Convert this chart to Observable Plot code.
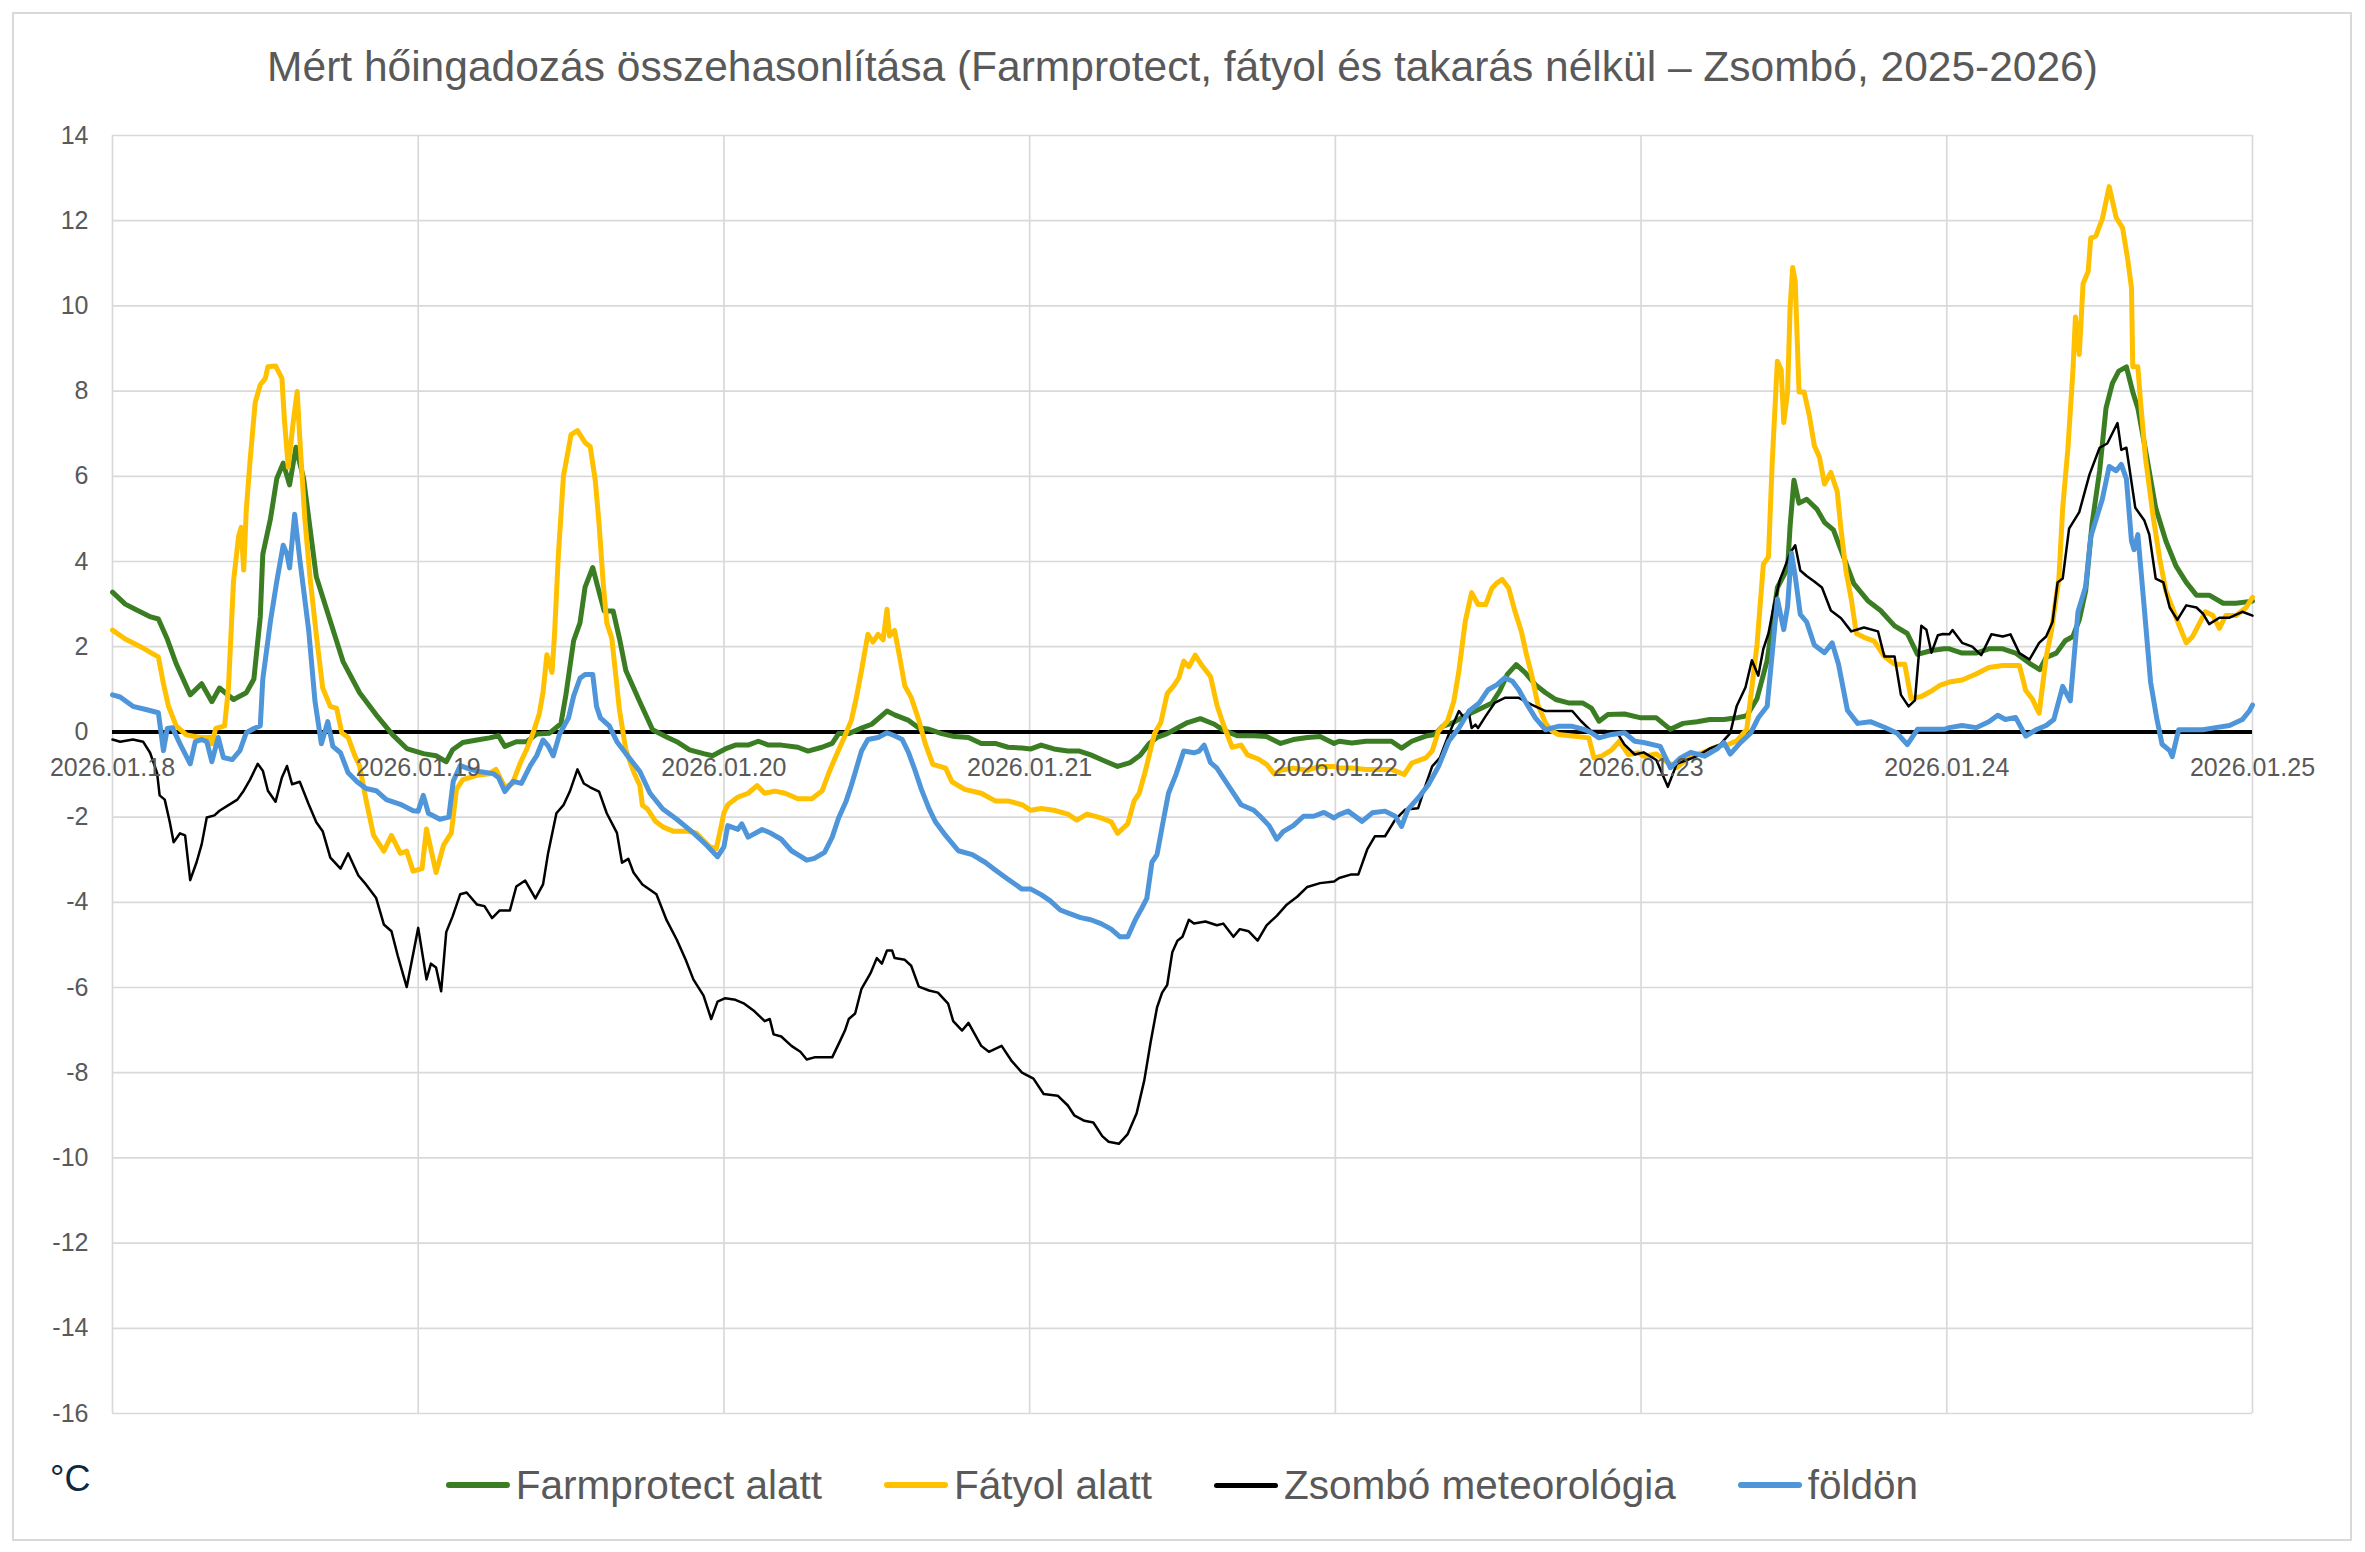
<!DOCTYPE html>
<html>
<head>
<meta charset="utf-8">
<script src="https://cdn.jsdelivr.net/npm/d3@7"></script>
<script src="https://cdn.jsdelivr.net/npm/@observablehq/plot@0.6"></script>
<style>
  html, body { margin: 0; padding: 0; background: #ffffff; }
  #wrap { position: relative; width: 2365px; height: 1552px; overflow: hidden;
          font-family: "Liberation Sans", Arial, sans-serif; background: #fff; }
  #chart { position: absolute; left: 0; top: 0; }
  #frame { position: absolute; left: 12px; top: 12px; width: 2340px; height: 1529px;
           border: 2px solid #d9d9d9; box-sizing: border-box; pointer-events: none; }
  #title { position: absolute; left: 0; top: 46px; width: 2365px; text-align: center;
           font-size: 42.5px; line-height: 1; color: #595959; white-space: nowrap; }
  #unit { position: absolute; left: 50px; top: 1461px; font-size: 36px; line-height: 1; color: #0e2841; }
  #legend { position: absolute; left: 112px; width: 2140px; top: 1465px; display: flex;
            justify-content: center; gap: 62px; font-size: 40.5px; line-height: 1; color: #595959; }
  .item { display: flex; align-items: center; white-space: nowrap; }
  .sw { width: 64px; height: 6px; border-radius: 3px; margin-right: 6px; }
</style>
</head>
<body>
<div id="wrap">
  <div id="chart"></div>
  <div id="frame"></div>
  <div id="title"></div>
  <div id="unit">°C</div>
  <div id="legend"></div>
</div>
<script>
// ---- data: [hours since 2026-01-18 00:00, °C] ----
const titleText = "Mért hőingadozás összehasonlítása (Farmprotect, fátyol és takarás nélkül – Zsombó, 2025-2026)";
const dayLabels = ["2026.01.18","2026.01.19","2026.01.20","2026.01.21","2026.01.22","2026.01.23","2026.01.24","2026.01.25"];
const yTicks = [-16,-14,-12,-10,-8,-6,-4,-2,0,2,4,6,8,10,12,14];
const seriesNames = ["Farmprotect alatt","Fátyol alatt","Zsombó meteorológia","földön"];
const seriesColors = ["#3B7D23","#FFC000","#000000","#4E95D9"];

const farmprotect = [
[0,3.28],[1,3.0],[1.9,2.86],[3,2.7],[3.6,2.65],[4.3,2.18],[5,1.6],[6.1,0.87],[7,1.13],[7.8,0.71],[8.4,1.03],[9.5,0.76],[10.5,0.92],[11.1,1.24],[11.6,2.7],[11.8,4.17],[12.4,5.0],[12.9,5.95],[13.4,6.31],[13.9,5.8],[14.4,6.68],[15,5.95],[16,3.64],[17.1,2.6],[18.1,1.65],[19.4,0.92],[20.7,0.4],[22,-0.07],[23.1,-0.39],
[24.4,-0.51],[25.4,-0.56],[26.2,-0.7],[26.7,-0.42],[27.5,-0.25],[28.6,-0.19],[29.6,-0.14],[30.3,-0.09],[30.8,-0.34],[31.7,-0.23],[32.5,-0.23],[33.3,-0.05],[34.3,-0.03],[35.2,0.19],[35.6,0.88],[36.2,2.14],[36.7,2.56],[37.1,3.4],[37.7,3.86],[38.1,3.4],[38.6,2.84],[39.3,2.84],[39.8,2.19],[40.3,1.44],[41.4,0.7],[42.4,0.05],[43.5,-0.12],[44.3,-0.23],[45.3,-0.42],[46.4,-0.51],[47.1,-0.56],
[48.1,-0.4],[48.9,-0.31],[49.9,-0.31],[50.7,-0.22],[51.5,-0.31],[52.5,-0.31],[53.8,-0.36],[54.6,-0.45],[55.7,-0.36],[56.5,-0.27],[57,-0.04],[57.8,-0.04],[58.8,0.09],[59.6,0.18],[60.3,0.36],[60.8,0.49],[61.4,0.4],[62.5,0.27],[63.3,0.09],[64,0.07],[65.1,-0.04],[66.1,-0.11],[67.2,-0.13],[68.2,-0.27],[69.3,-0.27],[70.3,-0.36],[71.4,-0.38],
[72.1,-0.4],[72.9,-0.31],[73.9,-0.4],[75,-0.45],[75.9,-0.45],[76.8,-0.54],[77.8,-0.67],[78.9,-0.81],[79.9,-0.72],[80.7,-0.54],[81.4,-0.27],[82,-0.13],[82.8,-0.04],[83.6,0.09],[84.4,0.22],[85.4,0.31],[86.5,0.18],[87.2,0.04],[88.3,-0.09],[89.6,-0.09],[90.6,-0.11],[91.7,-0.27],[92.7,-0.18],[93.8,-0.13],[94.8,-0.11],[95.9,-0.27],
[96.3,-0.22],[97.3,-0.26],[98.4,-0.22],[99.4,-0.22],[100.4,-0.22],[101.2,-0.38],[102,-0.22],[103.1,-0.1],[103.8,-0.06],[104.4,0.13],[105.2,0.21],[105.9,0.33],[106.7,0.45],[107.5,0.56],[108.3,0.68],[108.9,0.96],[109.5,1.35],[110.2,1.58],[110.9,1.39],[111.7,1.11],[112.5,0.92],[113.3,0.76],[114.3,0.68],[115.4,0.68],[116.1,0.56],[116.7,0.25],[117.4,0.41],[118.7,0.42],[120,0.33],
[121.2,0.33],[122.3,0.06],[123.3,0.2],[124.4,0.24],[125.4,0.29],[126.5,0.29],[127.5,0.33],[128.3,0.38],[129.1,0.78],[129.9,1.68],[130.7,3.39],[131.5,3.84],[131.7,4.83],[132,5.91],[132.4,5.37],[133,5.46],[133.8,5.23],[134.4,4.92],[135.1,4.74],[135.9,4.11],[136.7,3.48],[137.8,3.08],[138.8,2.85],[139.9,2.49],[140.9,2.31],[141.7,1.82],[142.8,1.91],[143.8,1.95],
[144.2,1.95],[145.2,1.85],[146.3,1.85],[147.3,1.95],[148.4,1.95],[149.4,1.85],[150.5,1.61],[151.3,1.46],[151.8,1.75],[152.6,1.85],[153.3,2.14],[153.9,2.24],[154.4,2.63],[154.9,3.31],[155.4,4.87],[156,6.13],[156.5,7.6],[157,8.18],[157.5,8.47],[158.1,8.57],[158.6,7.98],[159,7.6],[159.6,6.62],[160.4,5.26],[161.2,4.48],[162,3.89],[162.8,3.51],[163.6,3.21],[164.6,3.21],[165.7,3.02],[166.7,3.02],[168,3.07]
];

const fatyol = [
[0,2.39],[1,2.18],[2.2,2.0],[3,1.86],[3.6,1.76],[4,1.13],[4.4,0.6],[5,0.14],[5.8,-0.07],[6.9,-0.13],[7.7,-0.13],[7.8,-0.28],[8.1,0.08],[8.8,0.14],[9.1,1.03],[9.5,3.54],[9.9,4.59],[10.1,4.8],[10.3,3.8],[10.5,5.2],[10.8,6.37],[11.2,7.73],[11.6,8.15],[12,8.3],[12.2,8.57],[12.8,8.59],[13.3,8.3],[13.5,7.31],[13.8,6.21],[14.2,7.31],[14.5,7.99],[14.7,6.9],[15.1,5.0],[15.5,3.64],[16,2.28],[16.5,1.03],[17.1,0.6],[17.6,0.55],[18,-0.02],[18.5,-0.13],[19,-0.54],[19.4,-0.8],[19.9,-1.59],[20.5,-2.43],[21.3,-2.8],[21.9,-2.43],[22.6,-2.85],[23.1,-2.8],[23.6,-3.27],
[24.3,-3.21],[24.65,-2.28],[25.4,-3.3],[26,-2.65],[26.6,-2.37],[27,-1.35],[27.5,-1.12],[28.6,-1.02],[29.6,-0.98],[30.1,-0.88],[30.8,-1.3],[31.4,-1.21],[32,-0.74],[32.5,-0.42],[33.1,0.05],[33.5,0.42],[33.8,0.93],[34.1,1.81],[34.5,1.4],[34.7,2.28],[35,4.14],[35.4,6.0],[35.8,6.65],[36,6.98],[36.5,7.07],[37.1,6.79],[37.5,6.7],[37.9,5.9],[38.2,4.88],[38.5,3.58],[38.8,2.56],[39.2,2.19],[39.8,0.51],[40.3,-0.42],[40.9,-0.93],[41.4,-1.26],[41.6,-1.72],[42,-1.81],[42.6,-2.09],[43.2,-2.23],[44,-2.33],[45,-2.33],[45.8,-2.37],[46.9,-2.7],[47.4,-2.74],[47.8,-2.19],
[48,-1.9],[48.3,-1.71],[49.1,-1.53],[49.9,-1.44],[50.6,-1.26],[51.2,-1.44],[52,-1.39],[52.8,-1.44],[53.8,-1.57],[54.9,-1.57],[55.7,-1.39],[56.2,-0.99],[56.7,-0.63],[57.5,-0.09],[58,0.27],[58.4,0.81],[58.8,1.44],[59.3,2.29],[59.7,2.11],[60.1,2.29],[60.5,2.16],[60.8,2.88],[61,2.25],[61.4,2.38],[61.8,1.75],[62.2,1.08],[62.7,0.81],[63.3,0.27],[63.8,-0.27],[64.4,-0.76],[65.4,-0.85],[65.9,-1.17],[66.9,-1.35],[68.2,-1.44],[69.3,-1.62],[70.3,-1.62],[71.4,-1.71],
[72.1,-1.84],[72.9,-1.8],[73.9,-1.84],[75,-1.93],[75.7,-2.07],[76.5,-1.93],[77.6,-2.02],[78.4,-2.11],[78.9,-2.38],[79.7,-2.16],[80.2,-1.62],[80.6,-1.44],[81.1,-0.9],[81.8,-0.04],[82.3,0.22],[82.8,0.9],[83.3,1.08],[83.7,1.26],[84.1,1.66],[84.5,1.53],[85,1.8],[85.5,1.57],[86.2,1.3],[86.7,0.63],[87.2,0.18],[87.9,-0.36],[88.6,-0.31],[89.1,-0.54],[89.9,-0.63],[90.6,-0.76],[91.2,-0.99],[91.7,-0.9],[92.7,-0.85],[93.8,-0.9],[94.8,-0.81],[95.9,-0.81],
[96.3,-0.85],[97.3,-0.85],[98.4,-0.88],[99.4,-0.88],[100.4,-0.88],[101.4,-1.0],[102,-0.73],[103.1,-0.61],[103.6,-0.45],[104.1,0.02],[104.8,0.25],[105.3,0.72],[105.7,1.43],[106.2,2.6],[106.7,3.27],[107.2,2.99],[107.8,2.99],[108.3,3.38],[108.7,3.5],[109.1,3.58],[109.6,3.38],[110.1,2.83],[110.6,2.36],[111,1.82],[111.4,1.35],[111.9,0.64],[112.5,0.21],[113,0.02],[113.5,-0.06],[114.8,-0.1],[115.9,-0.14],[116.3,-0.61],[116.9,-0.57],[117.7,-0.42],[118.3,-0.22],[119,-0.53],[119.8,-0.49],
[120.2,-0.57],[121.2,-0.52],[122,-0.7],[122.8,-0.84],[123.9,-0.57],[124.9,-0.48],[126,-0.34],[126.8,-0.3],[127.5,-0.21],[128.3,0.06],[129.1,2.04],[129.6,3.93],[130,4.11],[130.3,6.36],[130.7,8.7],[131,8.5],[131.2,7.26],[131.5,7.98],[131.7,9.96],[131.9,10.9],[132.1,10.58],[132.4,7.98],[132.8,7.98],[133.2,7.44],[133.6,6.72],[134,6.45],[134.4,5.82],[134.9,6.09],[135.4,5.64],[135.7,4.74],[136.1,3.75],[136.5,3.12],[136.9,2.31],[137.5,2.22],[138.3,2.13],[139.1,1.77],[139.9,1.59],[140.7,1.59],[141.2,0.78],[142,0.83],[142.8,0.96],[143.5,1.1],
[144.2,1.17],[145.2,1.22],[146.3,1.36],[147.3,1.51],[148.4,1.56],[149.7,1.56],[150.2,0.97],[150.7,0.78],[151.25,0.44],[151.8,1.75],[152.2,2.34],[152.8,3.6],[153.1,5.26],[153.5,6.62],[153.9,8.47],[154.1,9.74],[154.4,8.86],[154.7,10.52],[155.1,10.81],[155.3,11.59],[155.7,11.64],[156,11.88],[156.2,12.03],[156.75,12.8],[157.3,12.07],[157.8,11.83],[158.2,11.1],[158.5,10.42],[158.6,8.57],[159,8.57],[159.2,7.79],[159.6,6.43],[160.2,5.06],[160.7,4.09],[161.2,3.31],[161.7,2.92],[162.2,2.53],[162.8,2.09],[163.3,2.24],[163.8,2.53],[164.3,2.82],[164.9,2.73],[165.4,2.43],[165.9,2.73],[166.7,2.73],[167.5,2.92],[168,3.16]
];

const zsombo = [
[0,-0.18],[0.6,-0.23],[1.6,-0.18],[2.4,-0.23],[2.95,-0.49],[3.5,-0.96],[3.7,-1.49],[4.1,-1.59],[4.5,-2.12],[4.8,-2.59],[5.3,-2.38],[5.7,-2.43],[6.1,-3.48],[6.6,-3.06],[7,-2.64],[7.4,-2.01],[8,-1.96],[8.4,-1.85],[9.2,-1.7],[9.8,-1.59],[10.3,-1.38],[10.8,-1.12],[11.4,-0.75],[11.8,-0.91],[12.2,-1.38],[12.8,-1.64],[13.3,-1.07],[13.7,-0.8],[14.1,-1.23],[14.7,-1.17],[15.4,-1.7],[16,-2.12],[16.5,-2.33],[17.1,-2.95],[17.9,-3.21],[18.5,-2.85],[19.3,-3.37],[19.9,-3.58],[20.7,-3.9],[21.3,-4.52],[21.9,-4.68],[22.4,-5.26],[23.1,-5.99],
[24,-4.6],[24.65,-5.81],[25,-5.44],[25.4,-5.53],[25.8,-6.09],[26.2,-4.7],[26.7,-4.33],[27.3,-3.81],[27.8,-3.77],[28.6,-4.05],[29.2,-4.09],[29.8,-4.37],[30.4,-4.19],[31.2,-4.19],[31.7,-3.63],[32.4,-3.49],[33.2,-3.91],[33.8,-3.58],[34.2,-2.84],[34.85,-1.91],[35.4,-1.72],[35.9,-1.4],[36.5,-0.88],[37,-1.21],[37.5,-1.3],[38.2,-1.4],[38.8,-1.91],[39.6,-2.37],[40,-3.07],[40.5,-2.98],[40.9,-3.3],[41.6,-3.58],[42.7,-3.81],[43.5,-4.42],[44.3,-4.88],[45,-5.35],[45.6,-5.81],[46.4,-6.19],[47,-6.74],[47.5,-6.33],
[48.1,-6.25],[48.9,-6.29],[49.6,-6.38],[50.4,-6.56],[51.2,-6.79],[51.6,-6.74],[51.9,-7.1],[52.5,-7.15],[53.3,-7.37],[54,-7.51],[54.5,-7.69],[55.1,-7.64],[55.9,-7.64],[56.5,-7.64],[57,-7.33],[57.5,-7.01],[57.8,-6.74],[58.3,-6.61],[58.8,-6.03],[59.5,-5.67],[60,-5.31],[60.4,-5.44],[60.8,-5.13],[61.2,-5.13],[61.4,-5.31],[62.2,-5.35],[62.7,-5.49],[63.3,-5.98],[64.1,-6.07],[64.8,-6.12],[65.6,-6.38],[66,-6.79],[66.7,-7.01],[67.2,-6.83],[68.2,-7.37],[68.8,-7.51],[69.8,-7.37],[70.6,-7.73],[71.4,-8.0],
[72.3,-8.14],[73.1,-8.5],[74.2,-8.54],[75,-8.77],[75.5,-9.0],[76.3,-9.13],[77,-9.17],[77.7,-9.49],[78.2,-9.62],[79,-9.67],[79.7,-9.44],[80.4,-8.95],[81,-8.18],[81.5,-7.28],[82,-6.47],[82.4,-6.12],[82.8,-5.94],[83.2,-5.17],[83.6,-4.9],[84,-4.81],[84.5,-4.41],[84.9,-4.5],[85.8,-4.45],[86.7,-4.54],[87.2,-4.5],[88,-4.81],[88.5,-4.63],[89.2,-4.68],[89.9,-4.9],[90.6,-4.54],[91.4,-4.32],[92.2,-4.05],[93,-3.87],[93.8,-3.64],[94.8,-3.55],[95.9,-3.51],
[96.3,-3.43],[97.2,-3.35],[97.8,-3.35],[98.5,-2.76],[99.1,-2.45],[99.9,-2.45],[100.7,-2.06],[101.5,-1.82],[102.5,-1.79],[103.1,-1.24],[103.6,-0.81],[104.2,-0.61],[104.9,-0.06],[105.7,0.49],[106.1,0.33],[106.5,0.41],[106.7,0.09],[107,0.17],[107.2,0.09],[107.8,0.37],[108.5,0.68],[109.3,0.8],[110.4,0.8],[111.4,0.64],[112.5,0.49],[113.5,0.49],[114.6,0.49],[115.3,0.25],[116.1,0.02],[117.2,0.02],[118.2,-0.06],[118.7,-0.3],[119.5,-0.53],
[120.2,-0.48],[121.2,-0.66],[122.1,-1.29],[122.8,-0.75],[123.6,-0.66],[124.4,-0.57],[125.4,-0.39],[126.2,-0.3],[127,-0.03],[127.5,0.6],[128.2,1.05],[128.7,1.68],[129.2,1.32],[129.6,1.95],[130,2.31],[130.4,2.94],[130.9,3.57],[131.3,3.88],[131.7,4.2],[132.1,4.38],[132.5,3.79],[133,3.66],[133.6,3.53],[134.2,3.39],[134.9,2.85],[135.7,2.67],[136.5,2.36],[137.5,2.45],[138.6,2.36],[139.1,1.77],[139.9,1.77],[140.4,0.87],[141,0.6],[141.5,0.74],[142,2.49],[142.4,2.4],[142.8,1.86],[143.3,2.27],[143.7,2.3],
[144.2,2.29],[144.45,2.39],[145.2,2.09],[146,2.0],[146.7,1.8],[147.5,2.29],[148.4,2.24],[149,2.29],[149.7,1.85],[150.5,1.7],[151.25,2.09],[151.8,2.24],[152.3,2.58],[152.7,3.51],[153.1,3.6],[153.6,4.77],[154.4,5.16],[155.2,6.04],[156,6.67],[156.6,6.77],[157.4,7.25],[157.7,6.62],[158.1,6.67],[158.8,5.26],[159.5,4.97],[159.9,4.63],[160.4,3.6],[161,3.51],[161.5,2.92],[162.1,2.63],[162.8,2.97],[163.6,2.92],[164.1,2.78],[164.6,2.53],[165.4,2.68],[166.2,2.68],[167.2,2.82],[168,2.73]
];

const foldon = [
[0,0.87],[0.6,0.82],[1.6,0.6],[2.7,0.52],[3.6,0.45],[4,-0.44],[4.3,0.08],[4.7,0.1],[5.3,-0.28],[6.1,-0.75],[6.5,-0.23],[7,-0.18],[7.4,-0.23],[7.8,-0.7],[8.3,-0.13],[8.7,-0.6],[9.4,-0.65],[10,-0.44],[10.5,-0.02],[11.1,0.08],[11.6,0.14],[11.8,1.24],[12.4,2.6],[12.9,3.54],[13.4,4.38],[13.7,4.17],[13.9,3.85],[14.3,5.11],[14.7,4.06],[15.4,2.39],[15.9,0.71],[16.4,-0.28],[16.9,0.24],[17.3,-0.34],[17.9,-0.49],[18.5,-0.96],[19.2,-1.17],[19.9,-1.33],[20.7,-1.38],[21.5,-1.59],[22.6,-1.7],[23.6,-1.85],
[24,-1.86],[24.4,-1.49],[24.8,-1.91],[25.7,-2.05],[26.4,-2.0],[26.75,-1.16],[27.3,-0.79],[28.1,-0.88],[28.8,-0.93],[29.9,-0.98],[30.3,-1.07],[30.8,-1.4],[31.45,-1.16],[32.1,-1.21],[32.8,-0.79],[33.3,-0.56],[33.8,-0.19],[34.2,-0.33],[34.6,-0.56],[35.1,-0.05],[35.8,0.33],[36.2,0.84],[36.7,1.26],[37.1,1.35],[37.7,1.35],[38,0.6],[38.3,0.33],[39,0.14],[39.6,-0.23],[40.3,-0.51],[41.4,-0.93],[42.2,-1.44],[43.2,-1.81],[44.3,-2.05],[45.6,-2.37],[46.6,-2.65],[47.5,-2.93],
[48,-2.7],[48.3,-2.2],[49.1,-2.29],[49.4,-2.16],[49.9,-2.47],[51,-2.29],[51.7,-2.38],[52.5,-2.52],[53.3,-2.79],[53.8,-2.88],[54.5,-3.01],[55.1,-2.97],[55.9,-2.83],[56.5,-2.47],[57,-2.02],[57.6,-1.62],[58,-1.26],[58.8,-0.45],[59.3,-0.18],[60.1,-0.13],[60.8,-0.02],[61.4,-0.09],[62,-0.18],[62.5,-0.49],[63,-0.9],[63.5,-1.35],[64.1,-1.8],[64.6,-2.11],[65.4,-2.43],[66.4,-2.79],[67.5,-2.88],[68.5,-3.06],[69.3,-3.24],[70.3,-3.46],[71.4,-3.69],
[72.1,-3.69],[72.9,-3.82],[73.6,-3.96],[74.4,-4.18],[75.2,-4.27],[76,-4.36],[76.8,-4.41],[77.6,-4.5],[78.4,-4.63],[79.1,-4.81],[79.7,-4.81],[80.3,-4.41],[80.8,-4.14],[81.2,-3.91],[81.6,-3.06],[82,-2.88],[82.5,-2.07],[82.9,-1.44],[83.5,-0.99],[84.1,-0.45],[84.9,-0.49],[85.3,-0.45],[85.7,-0.31],[86.2,-0.72],[86.7,-0.85],[87.2,-1.08],[87.8,-1.35],[88.6,-1.71],[89.6,-1.84],[90.1,-1.98],[90.8,-2.2],[91.4,-2.52],[91.9,-2.34],[92.7,-2.2],[93.5,-1.98],[94.3,-1.98],[95.1,-1.89],[95.9,-2.02],
[96.3,-1.94],[97,-1.86],[98.1,-2.1],[98.9,-1.9],[99.9,-1.86],[100.7,-1.98],[101.2,-2.22],[101.7,-1.82],[102.5,-1.55],[103.3,-1.24],[104.1,-0.81],[104.9,-0.22],[105.7,0.09],[106.5,0.49],[107.3,0.68],[108,0.99],[108.7,1.11],[109.3,1.27],[109.9,1.19],[110.4,0.99],[110.9,0.72],[111.7,0.33],[112.5,0.05],[113.5,0.13],[114.6,0.13],[115.6,0.05],[116.1,-0.02],[116.7,-0.14],[117.7,-0.06],[118.7,-0.02],[119.5,-0.22],
[120.2,-0.25],[121.5,-0.34],[122.3,-0.84],[123.1,-0.61],[123.9,-0.48],[125,-0.57],[126,-0.39],[126.5,-0.25],[127,-0.52],[127.8,-0.25],[128.6,-0.03],[129.2,0.33],[129.9,0.6],[130.7,3.12],[131.2,2.4],[131.5,2.94],[131.8,4.2],[132.1,3.66],[132.5,2.76],[133,2.58],[133.6,2.04],[134.4,1.86],[135,2.09],[135.5,1.59],[136.2,0.51],[137,0.2],[138,0.24],[139.1,0.11],[140.1,-0.03],[140.9,-0.3],[141.7,0.06],[142.8,0.06],[143.8,0.06],
[144.2,0.1],[145.2,0.15],[146.3,0.1],[147.3,0.24],[148,0.39],[148.6,0.29],[149.4,0.34],[150.2,-0.1],[151,0.05],[151.8,0.15],[152.4,0.29],[153.1,1.07],[153.7,0.73],[154.3,2.82],[154.9,3.41],[155.3,4.58],[156,5.26],[156.2,5.45],[156.75,6.23],[157.3,6.13],[157.7,6.28],[158.1,5.94],[158.5,4.48],[158.7,4.28],[159,4.63],[159.5,2.92],[160,1.17],[160.5,0.29],[160.9,-0.29],[161.5,-0.44],[161.7,-0.58],[162.2,0.05],[163,0.05],[164.1,0.05],[165.1,0.1],[166.2,0.15],[167.2,0.29],[167.75,0.49],[168,0.63]
];

// ---- build ----
const t0 = Date.UTC(2026, 0, 18);
const toDate = h => new Date(t0 + h * 3600000);
const days = dayLabels.map((label, i) => ({date: toDate(24 * i), label}));
const seriesData = [farmprotect, fatyol, zsombo, foldon];
const seriesWidths = [5, 5, 2.5, 5];

document.getElementById("title").textContent = titleText;

const lineMarks = seriesData.map((data, i) =>
  Plot.line(data, {
    x: d => toDate(d[0]),
    y: d => d[1],
    stroke: seriesColors[i],
    strokeWidth: seriesWidths[i],
    strokeLinejoin: "round",
    strokeLinecap: "round"
  })
);

const chart = Plot.plot({
  width: 2365,
  height: 1552,
  marginLeft: 112,
  marginRight: 113,
  marginTop: 135,
  marginBottom: 139,
  style: {fontFamily: "'Liberation Sans', Arial, sans-serif", fontSize: "25px", background: "transparent", color: "#595959"},
  x: {type: "utc", domain: [toDate(0), toDate(168)], axis: null},
  y: {domain: [-16, 14], axis: null},
  marks: [
    Plot.gridY(yTicks, {stroke: "#d9d9d9", strokeOpacity: 1, strokeWidth: 1.7}),
    Plot.gridX(days.map(d => d.date), {stroke: "#d9d9d9", strokeOpacity: 1, strokeWidth: 1.7}),
    Plot.axisY(yTicks, {tickSize: 0, tickPadding: 24, fontSize: 25, fill: "#595959", tickFormat: d => String(d), label: null}),
    Plot.ruleY([0], {stroke: "#000", strokeWidth: 4}),
    ...lineMarks,
    Plot.text(days, {x: "date", y: () => 0, text: "label", dy: 36, fontSize: 25, fill: "#595959"})
  ]
});
document.getElementById("chart").appendChild(chart);

// legend
const legend = document.getElementById("legend");
seriesNames.forEach((name, i) => {
  const item = document.createElement("div");
  item.className = "item";
  const sw = document.createElement("span");
  sw.className = "sw";
  sw.style.background = seriesColors[i];
  if (seriesWidths[i] < 4) sw.style.height = "5px";
  const tx = document.createElement("span");
  tx.textContent = name;
  item.appendChild(sw);
  item.appendChild(tx);
  legend.appendChild(item);
});
</script>
</body>
</html>
